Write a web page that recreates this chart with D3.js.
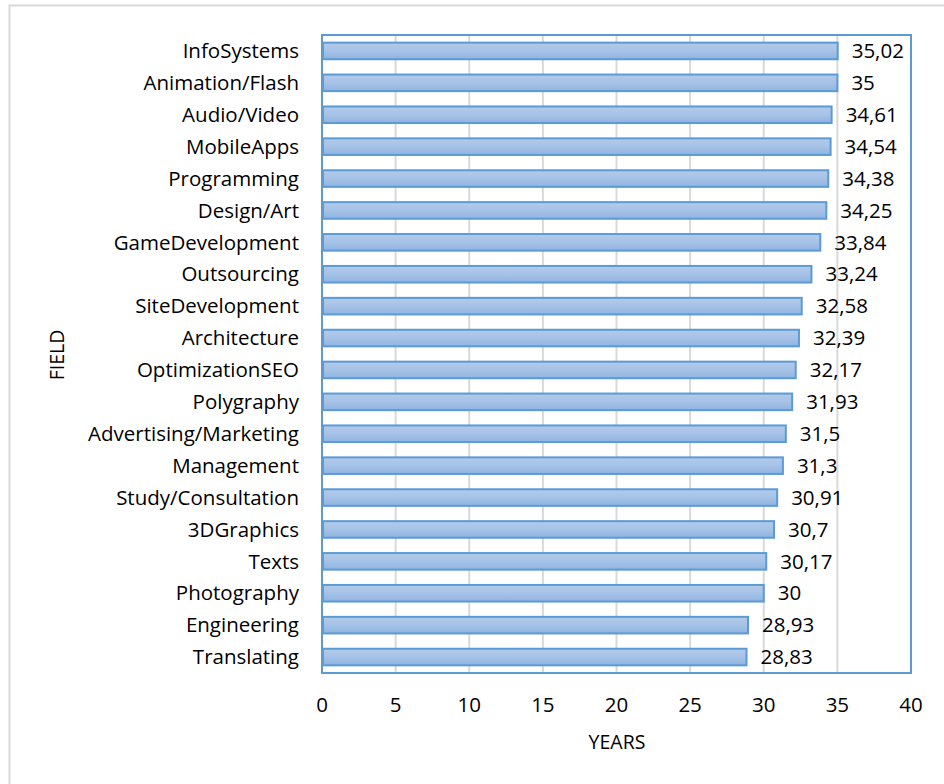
<!DOCTYPE html>
<html>
<head>
<meta charset="utf-8">
<script src="https://cdn.jsdelivr.net/npm/d3@7"></script>
<style>
  body { margin: 0; background: #fff; }
  text { font-family: "Open Sans", sans-serif; fill: #000; }
</style>
</head>
<body>
<script>
var width = 944,
    height = 784;

var fields = ["InfoSystems", "Animation/Flash", "Audio/Video", "MobileApps", "Programming",
  "Design/Art", "GameDevelopment", "Outsourcing", "SiteDevelopment", "Architecture",
  "OptimizationSEO", "Polygraphy", "Advertising/Marketing", "Management", "Study/Consultation",
  "3DGraphics", "Texts", "Photography", "Engineering", "Translating"];
var years = [35.02, 35, 34.61, 34.54, 34.38, 34.25, 33.84, 33.24, 32.58, 32.39,
  32.17, 31.93, 31.5, 31.3, 30.91, 30.7, 30.17, 30, 28.93, 28.83];
var xTicks = [0, 5, 10, 15, 20, 25, 30, 35, 40];

var plot = {left: 322, top: 35, right: 911, bottom: 673};

var svg = d3.select("body").append("svg")
    .attr("width", width)
    .attr("height", height);

var defs = svg.append("defs");
var grad = defs.append("linearGradient")
    .attr("id", "barFill")
    .attr("x1", 0).attr("y1", 0).attr("x2", 0).attr("y2", 1);
grad.append("stop").attr("offset", "0%").attr("stop-color", "#b3cbea");
grad.append("stop").attr("offset", "50%").attr("stop-color", "#a6c2e7");
grad.append("stop").attr("offset", "100%").attr("stop-color", "#8fb4e0");

// outer chart frame (runs off the right/bottom of the image)
svg.append("rect")
    .attr("x", 9.5).attr("y", 5.5)
    .attr("width", 960).attr("height", 800)
    .attr("fill", "none")
    .attr("stroke", "#d9d9d9")
    .attr("stroke-width", 2);

var x = d3.scaleLinear().domain([0, 40]).range([plot.left, plot.right]);
var y = d3.scaleBand().domain(fields).range([plot.top, plot.bottom])
    .paddingInner(0.48).paddingOuter(0.24);

// gridlines
svg.append("g").selectAll("line")
    .data(xTicks.slice(1, -1))
  .enter().append("line")
    .attr("x1", function(d) { return x(d); })
    .attr("x2", function(d) { return x(d); })
    .attr("y1", plot.top)
    .attr("y2", plot.bottom)
    .attr("stroke", "#d9d9d9")
    .attr("stroke-width", 2);

svg.append("line")
    .attr("x1", plot.left).attr("x2", plot.left)
    .attr("y1", plot.top).attr("y2", plot.bottom)
    .attr("stroke", "#d9d9d9")
    .attr("stroke-width", 2);

// bars
svg.append("g").selectAll("rect")
    .data(years)
  .enter().append("rect")
    .attr("x", x(0) + 1)
    .attr("y", function(d, i) { return y(fields[i]); })
    .attr("width", function(d) { return x(d) - x(0) - 1; })
    .attr("height", y.bandwidth())
    .attr("fill", "url(#barFill)")
    .attr("stroke", "#5b9bd5")
    .attr("stroke-width", 2);

// plot area border
svg.append("rect")
    .attr("x", plot.left).attr("y", plot.top)
    .attr("width", plot.right - plot.left)
    .attr("height", plot.bottom - plot.top)
    .attr("fill", "none")
    .attr("stroke", "#5b9bd5")
    .attr("stroke-width", 2);

// value labels
svg.append("g").selectAll("text")
    .data(years)
  .enter().append("text")
    .attr("x", function(d) { return x(d) + 14; })
    .attr("y", function(d, i) { return y(fields[i]) + y.bandwidth() / 2; })
    .attr("dy", "0.35em")
    .style("font-size", "20.5px")
    .text(function(d) { return String(d).replace(".", ","); });

// category labels
svg.append("g").selectAll("text")
    .data(fields)
  .enter().append("text")
    .attr("x", 299)
    .attr("y", function(d) { return y(d) + y.bandwidth() / 2; })
    .attr("dy", "0.35em")
    .attr("text-anchor", "end")
    .style("font-size", "20.5px")
    .text(function(d) { return d; });

// x tick labels
svg.append("g").selectAll("text")
    .data(xTicks)
  .enter().append("text")
    .attr("x", function(d) { return x(d); })
    .attr("y", 705)
    .attr("dy", "0.35em")
    .attr("text-anchor", "middle")
    .style("font-size", "20.5px")
    .text(function(d) { return d; });

svg.append("text")
    .attr("x", 617).attr("y", 742)
    .attr("dy", "0.35em")
    .attr("text-anchor", "middle")
    .style("font-size", "19.5px")
    .text("YEARS");

svg.append("text")
    .attr("transform", "translate(57,355) rotate(-90)")
    .attr("dy", "0.35em")
    .attr("text-anchor", "middle")
    .style("font-size", "19.5px")
    .text("FIELD");
</script>
</body>
</html>
